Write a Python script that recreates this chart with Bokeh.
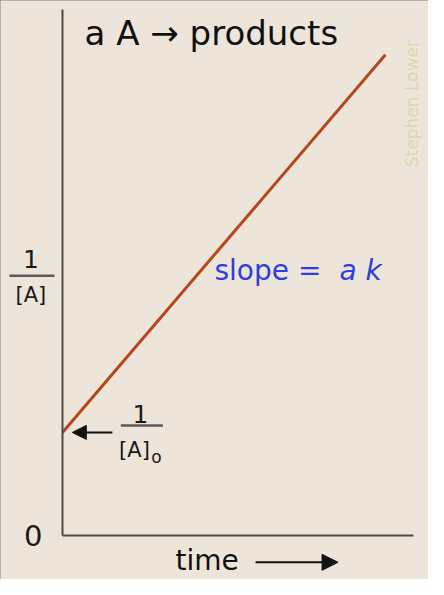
import math
from bokeh.plotting import figure
from bokeh.models import Label, Arrow, NormalHead, FixedTicker, Range1d
from bokeh.embed import file_html
from bokeh.resources import INLINE

# ---- data ----
time = [0.0, 9.2]
inv_conc = [1.96, 9.14]
y_ticks = [0]
y_tick_labels = {0: "0"}
title_text = "a A \u2192 products"
slope_text = "slope ="
slope_italic = "a k"
x_label = "time"
credit = "Stephen Lower"

BG = "#EDE5D9"
FONT = "DejaVu Sans"
W, H = 428, 579
# pixel geometry of the axes box inside the figure
AX_L, AX_R, AX_T, AX_B = 62, 413, 9, 535
sx = (AX_R - AX_L) / 10.0
sy = (AX_B - AX_T) / 10.0

p = figure(width=W, height=H, output_backend="svg", toolbar_location=None,
           x_range=Range1d(-AX_L / sx, (W - AX_L) / sx),
           y_range=Range1d(-(H - AX_B) / sy, AX_B / sy),
           min_border=0)
p.background_fill_color = BG
p.border_fill_color = BG
p.outline_line_color = None
p.grid.visible = False
p.styles = {"outline": "2px solid #7c7c7c", "outline-offset": "-2px"}

for ax in p.axis:
    ax.axis_line_color = "#4a4a4a"
    ax.axis_line_width = 2
    ax.major_tick_line_color = None
    ax.minor_tick_line_color = None
    ax.fixed_location = 0
    ax.bounds = (0, 10)

p.xaxis.ticker = FixedTicker(ticks=[])
p.xaxis.major_label_text_font_size = "0px"
p.yaxis.ticker = FixedTicker(ticks=y_ticks)
p.yaxis.major_label_overrides = y_tick_labels
p.yaxis.major_label_text_font_size = "29px"
p.yaxis.major_label_text_font = FONT
p.yaxis.major_label_text_color = "#1a1a1a"
p.yaxis.major_label_standoff = 14

p.line(time, inv_conc, line_color="#B5461D", line_width=3)

def lab(x, y, text, size, color="#1a1a1a", align="center", style="normal", angle=0):
    p.add_layout(Label(x=x, y=y, text=text, text_font=FONT, text_font_size=size,
                       text_color=color, text_align=align, text_baseline="middle",
                       text_font_style=style, angle=angle))

def bar(x0, x1, y):
    p.add_layout(Arrow(end=None, x_start=x0, y_start=y, x_end=x1, y_end=y,
                       line_color="#5a5a5a", line_width=2.5))

# title
lab(0.63, 9.56, title_text, "34px", color="#111111", align="left")
# credit
lab(9.97, 8.21, credit, "17px", color="#D9D9B0", angle=math.pi / 2)
# slope
lab(4.33, 5.04, slope_text, "28px", color="#2E3FDC", align="left")
lab(7.89, 5.04, slope_italic, "28px", color="#2E3FDC", align="left", style="italic")
# y label fraction 1/[A]
lab(-0.90, 5.25, "1", "25px")
bar(-1.51, -0.23, 4.94)
lab(-0.90, 4.58, "[A]", "21px")
# intercept label 1/[A]0
lab(2.22, 2.31, "1", "25px")
bar(1.66, 2.86, 2.09)
lab(2.05, 1.62, "[A]", "21px")
lab(2.68, 1.50, "o", "17px")
p.add_layout(Arrow(end=NormalHead(size=14, fill_color="#111111", line_color="#111111"),
                   x_start=1.42, y_start=1.96, x_end=0.28, y_end=1.96,
                   line_color="#111111", line_width=2))
# x label with arrow
lab(3.22, -0.47, x_label, "28px", color="#111111", align="left")
p.add_layout(Arrow(end=NormalHead(size=16, fill_color="#111111", line_color="#111111"),
                   x_start=5.5, y_start=-0.51, x_end=7.85, y_end=-0.51,
                   line_color="#111111", line_width=2))

open("out.html", "w").write(file_html(p, INLINE))
